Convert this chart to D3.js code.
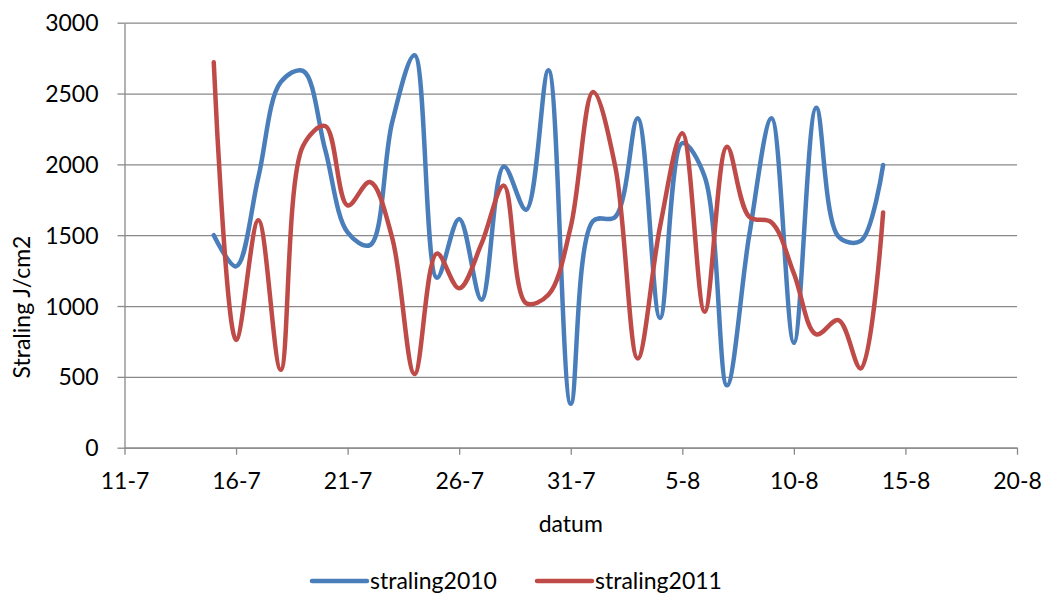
<!DOCTYPE html>
<html>
<head>
<meta charset="utf-8">
<script src="https://cdn.jsdelivr.net/npm/d3@7"></script>
<style>
    body { margin: 0; background: #fff; }
    text { font-family: Lato, "Open Sans", sans-serif; fill: #000; }
    .axis path, .axis line { stroke: #898989; stroke-width: 1.3; }
    .grid line { stroke: #898989; stroke-width: 1.3; }
    .grid path { display: none; }
</style>
</head>
<body>
<svg id="chart" width="1045" height="594"></svg>
<script>
// daily values, 15-7 .. 14-8
var days = ["15-7", "16-7", "17-7", "18-7", "19-7", "20-7", "21-7", "22-7", "23-7", "24-7",
    "25-7", "26-7", "27-7", "28-7", "29-7", "30-7", "31-7", "1-8", "2-8", "3-8",
    "4-8", "5-8", "6-8", "7-8", "8-8", "9-8", "10-8", "11-8", "12-8", "13-8", "14-8"];

var straling2010 = [1500, 1280, 1910, 2580, 2660, 2100, 1520, 1430, 2300, 2770,
    1200, 1615, 1045, 1985, 1680, 2665, 310, 1600, 1630, 2325,
    915, 2150, 1915, 440, 1500, 2325, 740, 2400, 1490, 1460, 1995];

var straling2011 = [2720, 760, 1605, 550, 2130, 2270, 1710, 1875, 1480, 520,
    1370, 1125, 1440, 1850, 1020, 1080, 1560, 2510, 1980, 630,
    1560, 2220, 960, 2125, 1630, 1590, 1230, 800, 900, 560, 1660];

var xTickLabels = ["11-7", "16-7", "21-7", "26-7", "31-7", "5-8", "10-8", "15-8", "20-8"];
var yTicks = [0, 500, 1000, 1500, 2000, 2500, 3000];

var series = [
    {name: "straling2010", values: straling2010, color: "#4a7ebb"},
    {name: "straling2011", values: straling2011, color: "#be4b48"}
];

var parse = d3.timeParse("%d-%m");
var fmt = function (d) { return d.getDate() + "-" + (d.getMonth() + 1); };

// plot area (window.top is reserved, hence the prefix)
var plotL = 124.5, plotR = 1017, plotT = 22.7, plotB = 447.7;

var x = d3.scaleTime()
    .domain([parse(xTickLabels[0]), parse(xTickLabels[xTickLabels.length - 1])])
    .range([plotL, plotR]);

var y = d3.scaleLinear()
    .domain([0, 3000])
    .range([plotB, plotT]);

var svg = d3.select("#chart");

// horizontal gridlines
svg.append("g")
    .attr("class", "grid")
    .attr("transform", "translate(" + plotL + ",0)")
    .call(d3.axisLeft(y).tickValues(yTicks).tickSize(-(plotR - plotL)).tickFormat(""));

// y axis
var yAxis = svg.append("g")
    .attr("class", "axis")
    .attr("transform", "translate(" + plotL + ",0)")
    .call(d3.axisLeft(y).tickValues(yTicks).tickFormat(d3.format("d"))
        .tickSize(7).tickSizeOuter(0).tickPadding(19));
yAxis.selectAll("text").style("font-size", "23px").attr("dy", "0.35em");

// x axis
var xAxis = svg.append("g")
    .attr("class", "axis")
    .attr("transform", "translate(0," + plotB + ")")
    .call(d3.axisBottom(x)
        .tickValues(xTickLabels.map(parse))
        .tickFormat(fmt)
        .tickSize(7).tickSizeOuter(0).tickPadding(18));
xAxis.selectAll("text").style("font-size", "23px").attr("dy", "0.71em");

// axis titles
svg.append("text")
    .attr("x", (plotL + plotR) / 2)
    .attr("y", 532)
    .attr("text-anchor", "middle")
    .style("font-size", "23px")
    .text("datum");

svg.append("text")
    .attr("transform", "translate(30,307) rotate(-90)")
    .attr("text-anchor", "middle")
    .style("font-size", "23px")
    .text("Straling J/cm2");

// lines - centripetal catmull-rom is closest to excel's smoothing
var line = d3.line()
    .curve(d3.curveCatmullRom.alpha(0.5))
    .x(function (d, i) { return x(parse(days[i])); })
    .y(function (d) { return y(d); });

svg.selectAll("path.series")
    .data(series)
    .enter()
    .append("path")
    .attr("class", "series")
    .attr("fill", "none")
    .attr("stroke", function (s) { return s.color; })
    .attr("stroke-width", 4.5)
    .attr("stroke-linejoin", "round")
    .attr("stroke-linecap", "round")
    .attr("d", function (s) { return line(s.values); });

// legend
var legendX = [312, 537];
var legend = svg.selectAll("g.legend")
    .data(series)
    .enter()
    .append("g")
    .attr("class", "legend")
    .attr("transform", function (s, i) { return "translate(" + legendX[i] + ",581)"; });

legend.append("line")
    .attr("x1", 0).attr("x2", 55)
    .attr("stroke", function (s) { return s.color; })
    .attr("stroke-width", 4.5)
    .attr("stroke-linecap", "round");

legend.append("text")
    .attr("x", 58)
    .attr("dy", "0.35em")
    .style("font-size", "23px")
    .text(function (s) { return s.name; });
</script>
</body>
</html>
